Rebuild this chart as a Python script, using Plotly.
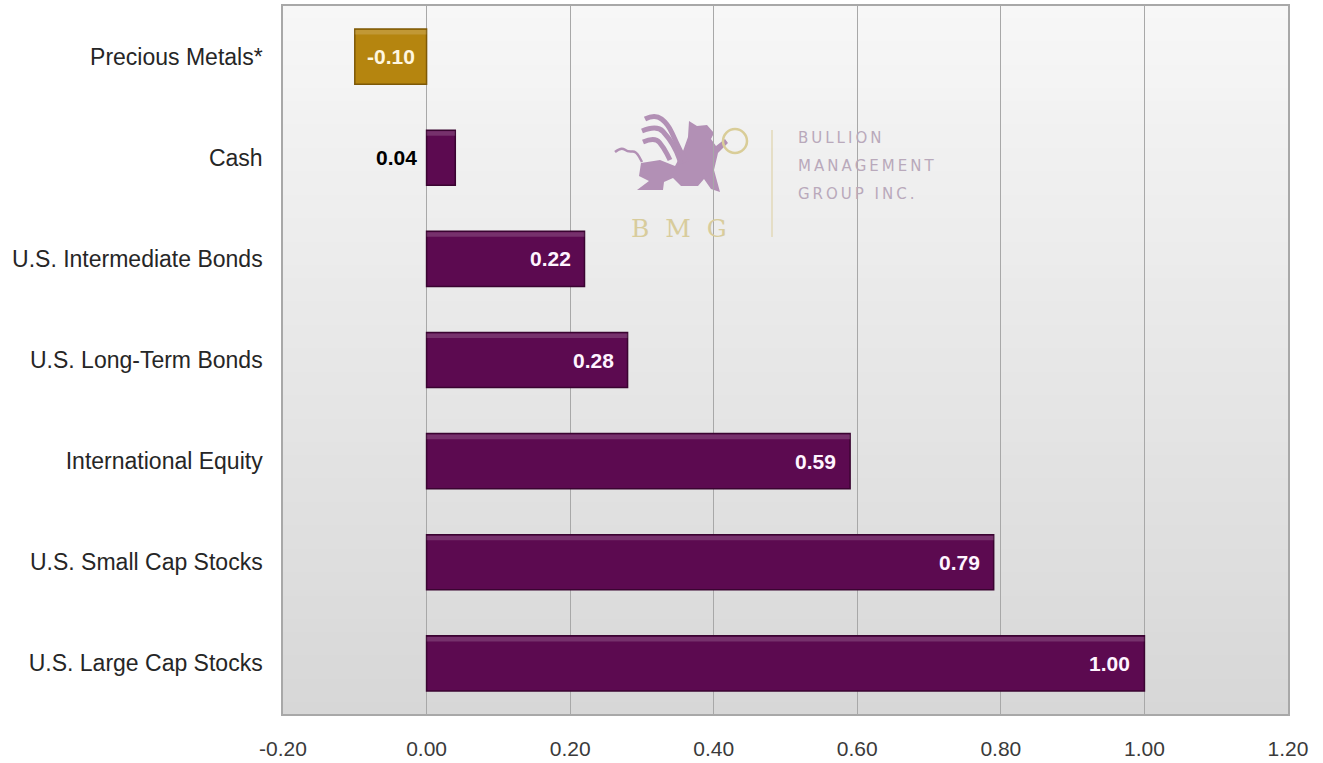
import plotly.graph_objects as go

categories = ["Precious Metals*", "Cash", "U.S. Intermediate Bonds", "U.S. Long-Term Bonds",
              "International Equity", "U.S. Small Cap Stocks", "U.S. Large Cap Stocks"]
values = [-0.10, 0.04, 0.22, 0.28, 0.59, 0.79, 1.00]
bar_colors = ["#b5850f", "#5c0a50", "#5c0a50", "#5c0a50", "#5c0a50", "#5c0a50", "#5c0a50"]
edge_colors = ["#7d5806", "#3a0431", "#3a0431", "#3a0431", "#3a0431", "#3a0431", "#3a0431"]
tick_vals = [-0.2, 0.0, 0.2, 0.4, 0.6, 0.8, 1.0, 1.2]
tick_text = ["-0.20", "0.00", "0.20", "0.40", "0.60", "0.80", "1.00", "1.20"]

BAR_W = 0.545

fig = go.Figure()
fig.add_trace(go.Bar(
    x=values, y=categories, orientation="h",
    marker=dict(color=bar_colors, line=dict(color=edge_colors, width=1.5)),
    width=BAR_W, hoverinfo="x+y",
))
# bevel highlight along top edge of each bar
fig.add_trace(go.Bar(
    x=values, y=categories, orientation="h",
    marker=dict(color="rgba(255,255,255,0.16)", line=dict(width=0)),
    width=0.045, offset=-BAR_W / 2 + 0.01, hoverinfo="skip",
))

annotations = []
lab_font = dict(size=21, family="Liberation Sans")
for cat, v in zip(categories, values):
    txt = f"<b>{v:.2f}</b>"
    if v < 0:
        annotations.append(dict(x=v / 2, y=cat, text=txt, showarrow=False,
                                font=dict(color="#fff7e0", **lab_font)))
    elif v < 0.1:
        annotations.append(dict(x=0, y=cat, text=txt, showarrow=False,
                                xanchor="right", xshift=-8,
                                font=dict(color="black", **lab_font)))
    else:
        annotations.append(dict(x=v, y=cat, text=txt, showarrow=False,
                                xanchor="right", xshift=-12,
                                font=dict(color="#fff4ff", **lab_font)))


def px_x(px):
    return (px - 283) / 1005


def px_y(py):
    return (714 - py) / 708


# watermark text
TS = "\u2009"
for word, py in [("BULLION", 138), ("MANAGEMENT", 166), ("GROUP INC.", 194)]:
    annotations.append(dict(xref="paper", yref="paper", x=px_x(796), y=px_y(py),
                            xanchor="left", yanchor="middle", showarrow=False,
                            text=TS.join(word),
                            font=dict(color="#b9a9bb", size=15, family="DejaVu Sans")))
annotations.append(dict(xref="paper", yref="paper", x=px_x(679), y=px_y(228),
                        xanchor="center", yanchor="middle", showarrow=False,
                        text="B  M  G", font=dict(color="#d8cc9c", size=25, family="DejaVu Serif")))

shapes = []
n = 60
top = (0xf7, 0xf7, 0xf7)
bot = (0xd7, 0xd7, 0xd7)
for i in range(n):
    t = (i + 0.5) / n
    c = tuple(round(bot[k] + (top[k] - bot[k]) * t) for k in range(3))
    shapes.append(dict(type="rect", xref="paper", yref="paper", x0=0, x1=1,
                       y0=i / n, y1=(i + 1) / n + 0.001, layer="below",
                       line=dict(width=0), fillcolor="rgb(%d,%d,%d)" % c))


def path_from(points, close=True, smooth=False):
    pts = [(px_x(a), px_y(b)) for a, b in points]
    if smooth and len(pts) >= 3:
        s = "M %f,%f" % pts[0]
        for i in range(1, len(pts) - 1):
            mx = (pts[i][0] + pts[i + 1][0]) / 2
            my = (pts[i][1] + pts[i + 1][1]) / 2
            s += " Q %f,%f %f,%f" % (pts[i][0], pts[i][1], mx, my)
        s += " L %f,%f" % pts[-1]
    else:
        s = "M " + " L ".join("%f,%f" % p for p in pts)
    if close:
        s += " Z"
    return s


LOGO = "#b290b5"
# griffin body (decorative watermark)
body = [(641, 163), (660, 160), (675, 166), (683, 151), (688, 137), (689, 121), (697, 126),
        (707, 125), (714, 133), (711, 139), (716, 146), (725, 139), (728, 143), (718, 153),
        (714, 170), (720, 192), (711, 189), (704, 179), (698, 186), (681, 186), (673, 178),
        (664, 182), (663, 190), (637, 190), (649, 181), (639, 176)]
shapes.append(dict(type="path", xref="paper", yref="paper", path=path_from(body),
                   fillcolor=LOGO, line=dict(width=0), layer="below"))
for wing in [[(645, 119), (655, 114), (668, 124), (676, 142), (686, 162)],
             [(642, 131), (657, 125), (669, 138), (677, 152), (681, 164)],
             [(643, 142), (655, 137), (664, 148), (670, 160)]]:
    shapes.append(dict(type="path", xref="paper", yref="paper",
                       path=path_from(wing, close=False, smooth=True),
                       line=dict(color=LOGO, width=5), layer="below"))
shapes.append(dict(type="path", xref="paper", yref="paper",
                   path=path_from([(615, 152), (621, 147), (628, 152), (636, 151), (642, 162)],
                                  close=False, smooth=True),
                   line=dict(color=LOGO, width=2.5), layer="below"))
# watermark divider line and ring
shapes.append(dict(type="line", xref="paper", yref="paper",
                   x0=px_x(772), x1=px_x(772), y0=px_y(237), y1=px_y(130),
                   line=dict(color="#e2d9b8", width=1.5), layer="below"))
shapes.append(dict(type="circle", xref="paper", yref="paper",
                   x0=px_x(723), x1=px_x(747), y0=px_y(153), y1=px_y(129),
                   line=dict(color="#d9cd98", width=2.5), layer="below"))

fig.update_layout(
    width=1323, height=763,
    margin=dict(l=283, r=35, t=6, b=49),
    paper_bgcolor="white", plot_bgcolor="#e8e8e8",
    showlegend=False, barmode="overlay",
    shapes=shapes, annotations=annotations,
    font=dict(family="Liberation Sans"),
)
fig.update_xaxes(range=[-0.2, 1.2], tickvals=tick_vals, ticktext=tick_text,
                 showgrid=True, gridcolor="#a8a8a8", gridwidth=1,
                 zeroline=True, zerolinecolor="#a8a8a8", zerolinewidth=1,
                 showline=True, linecolor="#a8a8a8", linewidth=1.5, mirror=True,
                 tickfont=dict(size=21, color="#3a3a3a", family="Liberation Sans"),
                 ticks="", ticklabelstandoff=15, automargin=False)
fig.update_yaxes(categoryorder="array", categoryarray=categories, autorange="reversed",
                 showgrid=False, showline=True, linecolor="#a8a8a8", linewidth=1.5, mirror=True,
                 tickfont=dict(size=23, color="#262626", family="Liberation Sans"),
                 ticks="", ticklabelstandoff=14, automargin=False)

fig.write_html("out.html")
